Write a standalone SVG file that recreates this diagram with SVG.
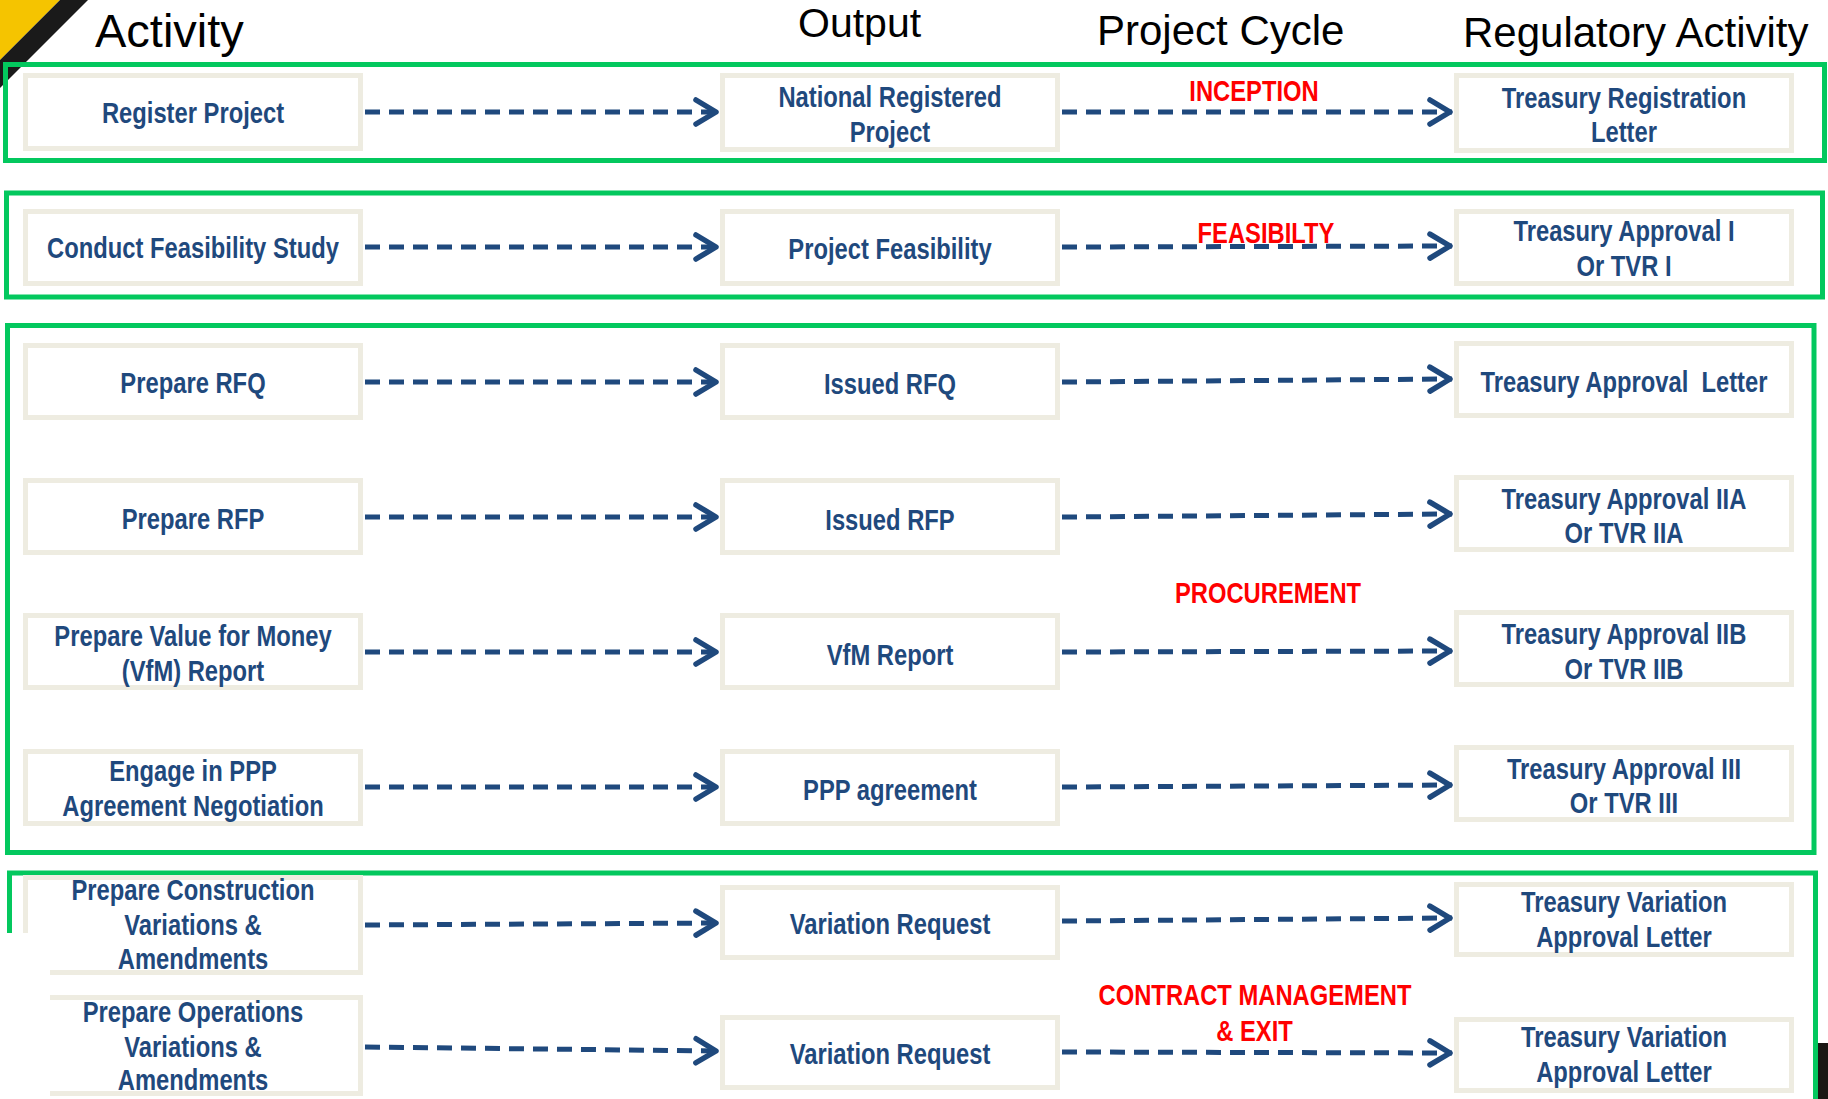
<svg xmlns="http://www.w3.org/2000/svg" width="1828" height="1099" viewBox="0 0 1828 1099">
<style>
.hdr{font-family:"Liberation Sans",Arial,sans-serif;fill:#000}
.box{fill:#fff;stroke:#EEECE1;stroke-width:5}
.t,.lbl{font-family:"Liberation Sans",Arial,sans-serif;font-weight:bold;font-size:29px;text-anchor:middle;transform-box:fill-box;transform-origin:center;transform:scaleX(0.82)}
.t{fill:#1F497D}
.lbl{fill:#FF0000}
.frame{fill:none;stroke:#03C85E;stroke-width:5}
.con{fill:none;stroke:#1F497D;stroke-width:5;stroke-dasharray:15 9}
</style>
<defs>
<marker id="arr" markerUnits="userSpaceOnUse" markerWidth="40" markerHeight="40" viewBox="-30 -20 40 40" refX="0" refY="0" orient="auto" overflow="visible">
<path d="M-22,-12 L-2,0 L-22,12" fill="none" stroke="#1F497D" stroke-width="5.5" stroke-linecap="round" stroke-linejoin="round"/>
</marker>
</defs>
<rect width="1828" height="1099" fill="#fff"/>
<g id="decor">
<polygon points="0,0 60,0 0,60" fill="#F5C400"/>
<polygon points="60,0 88,0 0,88 0,60" fill="#1A1A1A"/>
<rect x="1818" y="1043" width="10" height="56" fill="#1A1713"/>
</g>
<g id="headers">
<text class="hdr" x="95" y="47" font-size="47">Activity</text>
<text class="hdr" x="798" y="37" font-size="41">Output</text>
<text class="hdr" x="1097" y="45" font-size="42">Project Cycle</text>
<text class="hdr" x="1463" y="47" font-size="42">Regulatory Activity</text>
</g>
<g id="frames">
<rect class="frame" x="5.5" y="64.5" width="1819" height="96"/>
<rect class="frame" x="6.5" y="193" width="1816" height="104"/>
<rect class="frame" x="7.5" y="325.5" width="1806.5" height="527"/>
<rect class="frame" x="9.5" y="873" width="1806" height="300"/>
</g>
<g id="labels">
<text class="lbl" x="1254" y="101">INCEPTION</text>
<text class="lbl" x="1266" y="243">FEASIBILTY</text>
<text class="lbl" x="1268" y="603">PROCUREMENT</text>
<text class="lbl" x="1255" y="1005">CONTRACT MANAGEMENT</text>
<text class="lbl" x="1254.5" y="1041">&amp; EXIT</text>
</g>
<g id="n-register-project"><rect class="box" x="25.5" y="75.5" width="335" height="73"/><text class="t" x="193" y="123">Register Project</text></g>
<g id="n-national-registered-project"><rect class="box" x="722.5" y="75.5" width="335" height="74"/><text class="t" x="890" y="107">National Registered</text><text class="t" x="890" y="142">Project</text></g>
<g id="n-treasury-registration-letter"><rect class="box" x="1456.5" y="75.5" width="335" height="75"/><text class="t" x="1624" y="108">Treasury Registration</text><text class="t" x="1624" y="142">Letter</text></g>

<g id="n-conduct-feasibility-study"><rect class="box" x="25.5" y="211.5" width="335" height="72"/><text class="t" x="193" y="258">Conduct Feasibility Study</text></g>
<g id="n-project-feasibility"><rect class="box" x="722.5" y="211.5" width="335" height="72"/><text class="t" x="890" y="259">Project Feasibility</text></g>
<g id="n-treasury-approval-1"><rect class="box" x="1456.5" y="211.5" width="335" height="72"/><text class="t" x="1624" y="241">Treasury Approval I</text><text class="t" x="1624" y="276">Or TVR I</text></g>

<g id="n-prepare-rfq"><rect class="box" x="25.5" y="345.5" width="335" height="72"/><text class="t" x="193" y="393">Prepare RFQ</text></g>
<g id="n-issued-rfq"><rect class="box" x="722.5" y="345.5" width="335" height="72"/><text class="t" x="890" y="394">Issued RFQ</text></g>
<g id="n-treasury-approval-letter"><rect class="box" x="1456.5" y="343.5" width="335" height="72"/><text class="t" x="1624" y="392" xml:space="preserve">Treasury Approval  Letter</text></g>

<g id="n-prepare-rfp"><rect class="box" x="25.5" y="480.5" width="335" height="72"/><text class="t" x="193" y="529">Prepare RFP</text></g>
<g id="n-issued-rfp"><rect class="box" x="722.5" y="480.5" width="335" height="72"/><text class="t" x="890" y="530">Issued RFP</text></g>
<g id="n-treasury-approval-2a"><rect class="box" x="1456.5" y="477.5" width="335" height="72"/><text class="t" x="1624" y="509">Treasury Approval IIA</text><text class="t" x="1624" y="543">Or TVR IIA</text></g>

<g id="n-prepare-vfm"><rect class="box" x="25.5" y="615.5" width="335" height="72"/><text class="t" x="193" y="646">Prepare Value for Money</text><text class="t" x="193" y="681">(VfM) Report</text></g>
<g id="n-vfm-report"><rect class="box" x="722.5" y="615.5" width="335" height="72"/><text class="t" x="890" y="665">VfM Report</text></g>
<g id="n-treasury-approval-2b"><rect class="box" x="1456.5" y="612.5" width="335" height="72"/><text class="t" x="1624" y="644">Treasury Approval IIB</text><text class="t" x="1624" y="679">Or TVR IIB</text></g>

<g id="n-engage-ppp"><rect class="box" x="25.5" y="751.5" width="335" height="72"/><text class="t" x="193" y="781">Engage in PPP</text><text class="t" x="193" y="816">Agreement Negotiation</text></g>
<g id="n-ppp-agreement"><rect class="box" x="722.5" y="751.5" width="335" height="72"/><text class="t" x="890" y="800">PPP agreement</text></g>
<g id="n-treasury-approval-3"><rect class="box" x="1456.5" y="747.5" width="335" height="72"/><text class="t" x="1624" y="779">Treasury Approval III</text><text class="t" x="1624" y="813">Or TVR III</text></g>

<g id="n-construction-variations"><rect class="box" x="25.5" y="877.5" width="335" height="95"/><text class="t" x="193" y="900">Prepare Construction</text><text class="t" x="193" y="935">Variations &amp;</text><text class="t" x="193" y="969">Amendments</text></g>
<g id="n-variation-request-1"><rect class="box" x="722.5" y="887.5" width="335" height="70"/><text class="t" x="890" y="934">Variation Request</text></g>
<g id="n-treasury-variation-1"><rect class="box" x="1456.5" y="884.5" width="335" height="70"/><text class="t" x="1624" y="912">Treasury Variation</text><text class="t" x="1624" y="947">Approval Letter</text></g>

<g id="n-operations-variations"><rect class="box" x="25.5" y="997.5" width="335" height="96"/><text class="t" x="193" y="1022">Prepare Operations</text><text class="t" x="193" y="1057">Variations &amp;</text><text class="t" x="193" y="1090">Amendments</text></g>
<g id="n-variation-request-2"><rect class="box" x="722.5" y="1017.5" width="335" height="70"/><text class="t" x="890" y="1064">Variation Request</text></g>
<g id="n-treasury-variation-2"><rect class="box" x="1456.5" y="1019.5" width="335" height="71"/><text class="t" x="1624" y="1047">Treasury Variation</text><text class="t" x="1624" y="1082">Approval Letter</text></g>

<rect id="cover" x="0" y="933" width="50" height="166" fill="#fff"/>

<g id="connectors">
<line class="con" x1="365" y1="112" x2="718" y2="112" marker-end="url(#arr)"/>
<line class="con" x1="1062" y1="112" x2="1452" y2="112" marker-end="url(#arr)"/>
<line class="con" x1="365" y1="247" x2="718" y2="247" marker-end="url(#arr)"/>
<line class="con" x1="1062" y1="247" x2="1452" y2="246" marker-end="url(#arr)"/>
<line class="con" x1="365" y1="382" x2="718" y2="382" marker-end="url(#arr)"/>
<line class="con" x1="1062" y1="382" x2="1452" y2="379" marker-end="url(#arr)"/>
<line class="con" x1="365" y1="517" x2="718" y2="517" marker-end="url(#arr)"/>
<line class="con" x1="1062" y1="517" x2="1452" y2="514" marker-end="url(#arr)"/>
<line class="con" x1="365" y1="652" x2="718" y2="652" marker-end="url(#arr)"/>
<line class="con" x1="1062" y1="652" x2="1452" y2="651" marker-end="url(#arr)"/>
<line class="con" x1="365" y1="787" x2="718" y2="787" marker-end="url(#arr)"/>
<line class="con" x1="1062" y1="787" x2="1452" y2="785" marker-end="url(#arr)"/>
<line class="con" x1="365" y1="925" x2="718" y2="923" marker-end="url(#arr)"/>
<line class="con" x1="1062" y1="921" x2="1452" y2="918" marker-end="url(#arr)"/>
<line class="con" x1="365" y1="1047" x2="718" y2="1051" marker-end="url(#arr)"/>
<line class="con" x1="1062" y1="1052" x2="1452" y2="1053" marker-end="url(#arr)"/>
</g>
</svg>
